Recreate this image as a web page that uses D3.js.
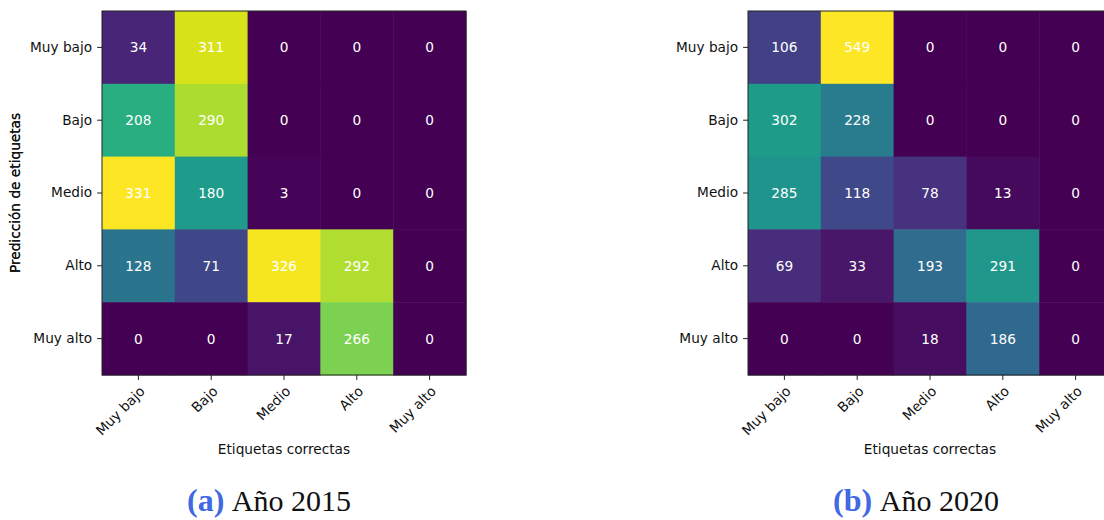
<!DOCTYPE html>
<html>
<head>
<meta charset="utf-8">
<script src="https://cdn.jsdelivr.net/npm/d3@7"></script>
<style>
  html, body { margin: 0; padding: 0; background: #fff; }
  svg { display: block; }
</style>
</head>
<body>
<svg id="chart" width="1104" height="520"></svg>
<script>
// ---- data ----
const categories = ["Muy bajo", "Bajo", "Medio", "Alto", "Muy alto"];
// rows = predicted label, columns = correct label
const values2015 = [
  [34, 311, 0, 0, 0],
  [208, 290, 0, 0, 0],
  [331, 180, 3, 0, 0],
  [128, 71, 326, 292, 0],
  [0, 0, 17, 266, 0]
];
const values2020 = [
  [106, 549, 0, 0, 0],
  [302, 228, 0, 0, 0],
  [285, 118, 78, 13, 0],
  [69, 33, 193, 291, 0],
  [0, 0, 18, 186, 0]
];
const captionLetters = ["(a)", "(b)"];
const captionTexts = ["Año 2015", "Año 2020"];
const xAxisTitle = "Etiquetas correctas";
const yAxisTitle = "Predicción de etiquetas";

// ---- layout ----
const svg = d3.select("#chart");
const size = 364;
const panels = [
  { x0: 102, y0: 11, data: values2015, capX: 269 },
  { x0: 748, y0: 11, data: values2020, capX: 916 }
];
const fontSans = "'DejaVu Sans', sans-serif";
const fs = 13.7;
const tickLen = 4.9, tickPad = 4.9;

panels.forEach((p, i) => {
  const g = svg.append("g").attr("transform", `translate(${p.x0},${p.y0})`);
  const x = d3.scaleBand().domain(categories).range([0, size]);
  const y = d3.scaleBand().domain(categories).range([0, size]);
  const maxV = d3.max(p.data.flat());
  const color = d3.scaleSequential(d3.interpolateViridis).domain([0, maxV]);

  const cells = [];
  p.data.forEach((row, r) => row.forEach((v, c) => cells.push({ r, c, v })));

  g.selectAll("rect.cell").data(cells).enter().append("rect")
    .attr("class", "cell")
    .attr("x", d => x(categories[d.c]))
    .attr("y", d => y(categories[d.r]))
    .attr("width", x.bandwidth() + 0.5)
    .attr("height", y.bandwidth() + 0.5)
    .attr("fill", d => color(d.v));

  g.selectAll("text.val").data(cells).enter().append("text")
    .attr("class", "val")
    .attr("x", d => x(categories[d.c]) + x.bandwidth() / 2)
    .attr("y", d => y(categories[d.r]) + y.bandwidth() / 2)
    .attr("text-anchor", "middle")
    .attr("dominant-baseline", "central")
    .attr("font-family", fontSans)
    .attr("font-size", fs)
    .attr("fill", "#ffffff")
    .text(d => d.v);

  // frame
  g.append("rect")
    .attr("x", 0).attr("y", 0).attr("width", size).attr("height", size)
    .attr("fill", "none").attr("stroke", "#222").attr("stroke-width", 1);

  // x axis
  const xAxis = g.append("g").attr("transform", `translate(0,${size})`)
    .call(d3.axisBottom(x).tickSize(tickLen).tickPadding(tickPad));
  xAxis.select(".domain").remove();
  xAxis.selectAll(".tick line").attr("stroke", "#222");
  xAxis.selectAll(".tick text")
    .attr("font-family", fontSans).attr("font-size", fs).attr("fill", "#111")
    .attr("text-anchor", "end")
    .attr("y", 0).attr("dy", null)
    .attr("transform", `translate(0,${tickLen + tickPad}) rotate(-45)`)
    .attr("dominant-baseline", "hanging");

  // y axis
  const yAxis = g.append("g")
    .call(d3.axisLeft(y).tickSize(tickLen).tickPadding(tickPad));
  yAxis.select(".domain").remove();
  yAxis.selectAll(".tick line").attr("stroke", "#222");
  yAxis.selectAll(".tick text")
    .attr("font-family", fontSans).attr("font-size", fs).attr("fill", "#111");

  // axis titles
  g.append("text")
    .attr("x", size / 2).attr("y", 443)
    .attr("text-anchor", "middle")
    .attr("font-family", fontSans).attr("font-size", fs).attr("fill", "#111")
    .text(xAxisTitle);
  g.append("text")
    .attr("transform", `translate(${20 - p.x0},${size / 2}) rotate(-90)`)
    .attr("text-anchor", "middle")
    .attr("font-family", fontSans).attr("font-size", fs).attr("fill", "#111")
    .text(yAxisTitle);

  // caption
  const cap = svg.append("text")
    .attr("x", p.capX).attr("y", 511)
    .attr("text-anchor", "middle")
    .attr("font-family", "'Liberation Serif', 'DejaVu Serif', serif")
    .attr("font-size", 30)
    .attr("fill", "#111");
  cap.append("tspan").attr("fill", "#4169e1").attr("font-weight", "bold")
    .attr("font-size", 32).text(captionLetters[i]);
  cap.append("tspan").text("\u00a0" + captionTexts[i]);
});
</script>
</body>
</html>
